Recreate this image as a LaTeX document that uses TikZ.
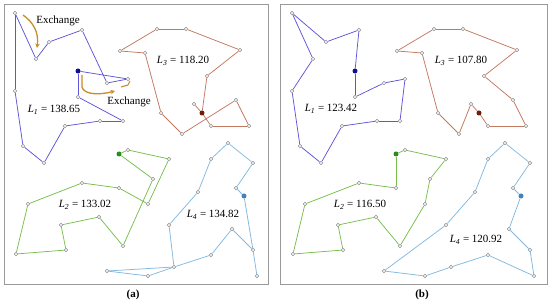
\documentclass[tikz,border=0pt]{standalone}
\usepackage{fontspec}
\setmainfont{Liberation Serif}
\usetikzlibrary{arrows.meta,backgrounds}
\definecolor{lblue}{RGB}{95,85,215}
\definecolor{dblue}{RGB}{20,15,140}
\definecolor{lred}{RGB}{195,120,95}
\definecolor{dred}{RGB}{110,30,10}
\definecolor{lgreen}{RGB}{120,190,75}
\definecolor{dgreen}{RGB}{40,140,30}
\definecolor{lcyan}{RGB}{130,185,225}
\definecolor{dcyan}{RGB}{70,130,185}
\definecolor{xorange}{RGB}{200,140,40}
\tikzset{
 pt/.style={circle,draw=black!45,fill=white,inner sep=0pt,minimum size=3.6pt,line width=0.45pt},
 depot/.style={circle,fill=#1,inner sep=0pt,minimum size=5pt},
 route/.style={draw=#1,line width=0.75pt},
 lbl/.style={font=\fontsize{11}{12}\selectfont,inner sep=0pt},
 captxt/.style={font=\bfseries\fontsize{11}{12}\selectfont,inner sep=0pt},
 xarrow/.style={draw=xorange,line width=1.3pt,-{Stealth[length=4.5pt,width=4.5pt]}},
 xline/.style={draw=xorange,line width=1.1pt},
 panel/.style={draw=black!40,line width=0.8pt}
}
\newcommand\placeall[1]{%
 \foreach \n/\x/\y in {B1/15/13,B2/36/59,B3/49/42,B4/82/30,B5/107/83,B6/128/79,B7/78/97,B8/123/121,B9/100/121,B10/65/126,B11/44/163,B12/23/146,B13/15/91,
  R1/120/51,R2/157/29,R3/186/29,R4/240/50,R5/207/76,R6/194/104,R7/211/126,R8/249/126,R9/236/100,R10/182/134,R11/161/113,R12/145/53,
  G1/128/150,G2/169/159,G3/153/179,G4/148/204,G5/123/246,G6/99/217,G7/61/225,G8/66/250,G9/16/254,G10/28/204,G11/82/183,G12/119/188,
  C1/236/188,C2/253/163,C3/228/143,C4/211/159,C5/198/192,C6/169/225,C7/107/271,C8/148/276,C9/174/267,C10/211/255,C11/257/276,C12/253/250,C13/232/229}
  \node[pt] (#1\n) at (\x,\y) {};
 \node[depot=dblue] (#1BD) at (78,71) {};
 \node[depot=dred] (#1RD) at (202,113) {};
 \node[depot=dgreen] (#1GD) at (119,154) {};
 \node[depot=dcyan] (#1CD) at (244,196) {};
}
\newcommand\route[3]{\foreach \u/\v in {#3} \draw[route=#2] (#1\u) -- (#1\v);}
\begin{document}
\begin{tikzpicture}[x=1pt,y=-1pt]
\useasboundingbox (0,0) rectangle (550,304);
\draw[panel] (4,4) rectangle (268,284);
\draw[panel] (280,4) rectangle (547,284);
% panel (a)
\placeall{a}
% panel (b)
\begin{scope}[xshift=277pt]
\placeall{b}
\end{scope}
\begin{pgfonlayer}{background}
\route{a}{lblue}{B13/B1,B1/B2,B2/B3,B3/B4,B4/B5,B5/B6,B6/BD,BD/B7,B7/B8,B8/B9,B9/B10,B10/B11,B11/B12,B12/B13}
\route{a}{lred}{R1/R2,R2/R3,R3/R4,R4/R5,R5/RD,RD/R6,RD/R7,R7/R8,R8/R9,R9/R10,R10/R11,R11/R12,R12/R1}
\route{a}{lgreen}{GD/G1,G1/G2,G2/G4,G4/G12,G12/G11,G11/G10,G10/G9,G9/G8,G8/G7,G7/G6,G6/G5,G5/G3,G3/GD}
\route{a}{lcyan}{CD/C1,C1/C2,C2/C3,C3/C4,C4/C5,C5/C6,C6/C9,C9/C8,C8/C7,C7/C9,C9/C10,C10/C13,C13/C12,C12/C11,CD/C12}
\route{b}{lblue}{B1/B3,B3/B4,B4/BD,BD/B7,B7/B5,B5/B6,B6/B8,B8/B9,B9/B10,B10/B11,B11/B12,B12/B13,B13/B2,B2/B1}
\route{b}{lred}{R1/R2,R2/R3,R3/R4,R4/R5,R5/R9,R9/R8,R8/R7,R7/RD,RD/R6,R6/R10,R10/R11,R11/R12,R12/R1}
\route{b}{lgreen}{GD/G1,G1/G2,G2/G3,G3/G4,G4/G5,G5/G6,G6/G7,G7/G8,G8/G9,G9/G10,G10/G11,G11/G12,G12/GD}
\route{b}{lcyan}{CD/C1,C1/C2,C2/C3,C3/C4,C4/C5,C5/C6,C6/C7,C7/C8,C8/C9,C9/C10,C10/C11,C11/C12,C12/C13,C13/CD}
\end{pgfonlayer}
% labels
\node[lbl] (aL1) at (54,110) {\textit{L}\textsubscript{\textit{1}} = 138.65};
\node[lbl] (aL3) at (183,61) {\textit{L}\textsubscript{\textit{3}} = 118.20};
\node[lbl] (aL2) at (85,205) {\textit{L}\textsubscript{\textit{2}} = 133.02};
\node[lbl] (aL4) at (213,215) {\textit{L}\textsubscript{\textit{4}} = 134.82};
\node[lbl] (bL1) at (331,109) {\textit{L}\textsubscript{\textit{1}} = 123.42};
\node[lbl] (bL3) at (461,61) {\textit{L}\textsubscript{\textit{3}} = 107.80};
\node[lbl] (bL2) at (360,205) {\textit{L}\textsubscript{\textit{2}} = 116.50};
\node[lbl] (bL4) at (476,240) {\textit{L}\textsubscript{\textit{4}} = 120.92};
% exchange
\node[lbl] (ex1) at (58,21) {Exchange};
\node[lbl] (ex2) at (129,102) {Exchange};
\coordinate (e1s) at (23,15);
\coordinate (e1e) at (37,48);
\draw[xarrow] (e1s) .. controls (33,22) and (39,32) .. (e1e);
\coordinate (e2s) at (82,75);
\coordinate (e2m) at (82,87);
\coordinate (e2e) at (115,91);
\draw[xarrow] (e2s) -- (e2m) .. controls (84,95) and (100,95) .. (e2e);
\coordinate (e3s) at (130,81);
\coordinate (e3m) at (128,85);
\coordinate (e3e) at (121,87);
\draw[xline] (e3s) -- (e3m) -- (e3e);
% captions
\node[captxt] (capa) at (133,295) {(a)};
\node[captxt] (capb) at (422,295) {(b)};
\end{tikzpicture}
\end{document}
